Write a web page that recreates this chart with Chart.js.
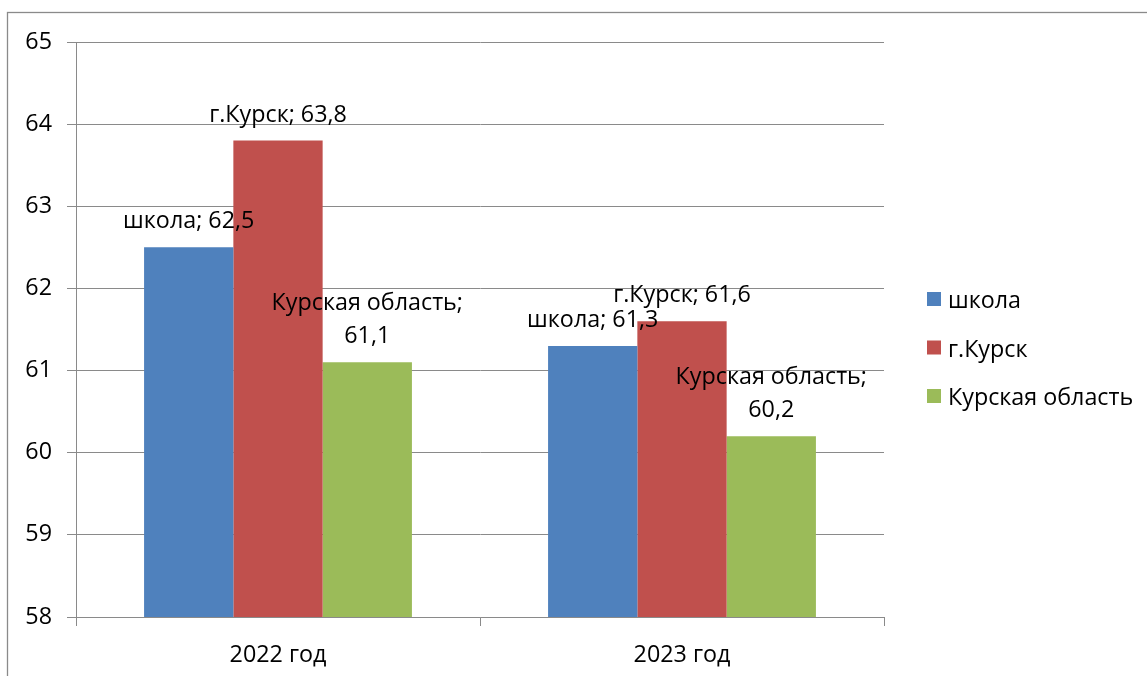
<!DOCTYPE html>
<html><head><meta charset="utf-8">
<script src="https://cdn.jsdelivr.net/npm/chart.js@4/dist/chart.umd.min.js"></script>
<style>html,body{margin:0;padding:0;background:#fff;}#wrap{width:1147px;height:676px;position:relative;overflow:hidden;}</style>
</head><body><div id="wrap"><canvas id="c" width="1147" height="676"></canvas></div>
<script>
const categories = ['2022 год', '2023 год'];
const seriesNames = ['школа', 'г.Курск', 'Курская область'];
const schoolValues = [62.5, 61.3];
const kurskCityValues = [63.8, 61.6];
const kurskRegionValues = [61.1, 60.2];
const yTickValues = [58, 59, 60, 61, 62, 63, 64, 65];
const seriesColors = ['#4F81BD', '#C0504D', '#9BBB59'];

const FONT = '"Open Sans", "Noto Sans", sans-serif';
const FSIZE = 23.3;
const GRID = '#8a8a8a';

const framePlugin = {
  id: 'frame',
  beforeDraw(chart) {
    const ctx = chart.ctx;
    ctx.save();
    ctx.fillStyle = '#fff';
    ctx.fillRect(0, 0, chart.width, chart.height);
    ctx.strokeStyle = GRID;
    ctx.lineWidth = 1.3;
    ctx.strokeRect(7.5, 12.5, 3000, 3000);
    ctx.restore();
  }
};

const labelPlugin = {
  id: 'barLabels',
  afterDatasetsDraw(chart) {
    const ctx = chart.ctx;
    ctx.save();
    ctx.font = FSIZE + 'px ' + FONT;
    ctx.fillStyle = '#000';
    ctx.textAlign = 'center';
    ctx.textBaseline = 'alphabetic';
    chart.data.datasets.forEach((ds, di) => {
      const meta = chart.getDatasetMeta(di);
      meta.data.forEach((el, i) => {
        const valStr = String(ds.data[i]).replace('.', ',');
        const full = ds.label + '; ' + valStr;
        let lines = [full];
        if (ctx.measureText(full).width > 200) lines = [ds.label + ';', valStr];
        const base = el.y - 19;
        lines.forEach((ln, li) => {
          const y = base - (lines.length - 1 - li) * 33;
          ctx.fillText(ln, el.x, y);
        });
      });
    });
    ctx.restore();
  }
};

const legendPlugin = {
  id: 'sideLegend',
  afterDraw(chart) {
    const ctx = chart.ctx;
    ctx.save();
    ctx.font = FSIZE + 'px ' + FONT;
    ctx.textBaseline = 'alphabetic';
    ctx.textAlign = 'left';
    const x0 = chart.chartArea.right + 43;
    const y0 = 292;
    chart.data.datasets.forEach((ds, i) => {
      const y = y0 + i * 48.5;
      ctx.fillStyle = ds.backgroundColor;
      ctx.fillRect(x0, y, 14, 14);
      ctx.fillStyle = '#000';
      ctx.fillText(ds.label, x0 + 21, y + 16);
    });
    ctx.restore();
  }
};

const allSeries = [schoolValues, kurskCityValues, kurskRegionValues];

new Chart(document.getElementById('c'), {
  type: 'bar',
  data: {
    labels: categories,
    datasets: allSeries.map((vals, i) => ({
      label: seriesNames[i],
      data: vals,
      backgroundColor: seriesColors[i],
      borderWidth: 0,
      categoryPercentage: 0.663,
      barPercentage: 1.0
    }))
  },
  options: {
    responsive: false,
    animation: false,
    devicePixelRatio: 1,
    layout: { padding: { left: 10, right: 263, top: 42, bottom: 0 } },
    plugins: { legend: { display: false }, tooltip: { enabled: false } },
    scales: {
      x: {
        offset: true,
        grid: { display: true, drawOnChartArea: false, drawTicks: true, tickLength: 9, color: GRID, offset: true },
        border: { display: true, color: GRID, width: 1 },
        ticks: { color: '#000', font: { family: FONT, size: FSIZE }, padding: 15 },
        afterFit(scale) { scale.height = 59; }
      },
      y: {
        min: 58,
        max: 65,
        afterBuildTicks(scale) { scale.ticks = yTickValues.map(v => ({ value: v })); },
        grid: { color: GRID, tickLength: 9, drawTicks: true },
        border: { display: true, color: GRID, width: 1 },
        ticks: { color: '#000', font: { family: FONT, size: FSIZE }, padding: 15 },
        afterFit(scale) { scale.width = 66; }
      }
    }
  },
  plugins: [framePlugin, labelPlugin, legendPlugin]
});
</script></body></html>
